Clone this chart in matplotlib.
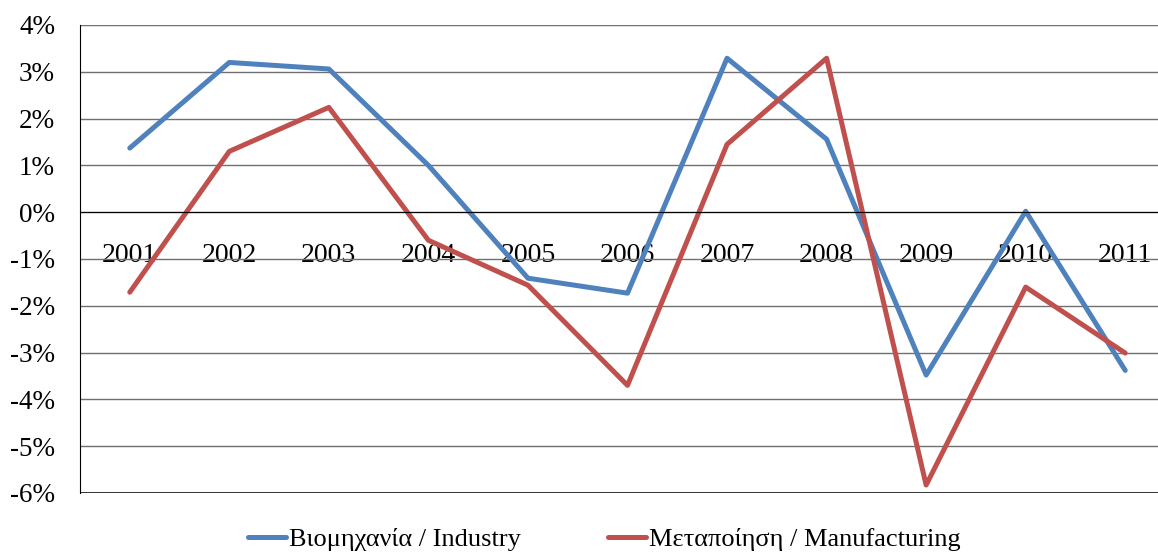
import numpy as np
import matplotlib.pyplot as plt
from matplotlib.ticker import FuncFormatter

years = ['2001', '2002', '2003', '2004', '2005', '2006', '2007', '2008', '2009', '2010', '2011']
industry = [1.37, 3.20, 3.06, 1.00, -1.41, -1.73, 3.29, 1.56, -3.48, 0.02, -3.38]
manufacturing = [-1.71, 1.30, 2.24, -0.60, -1.56, -3.70, 1.45, 3.29, -5.83, -1.60, -3.01]

label_ind = 'Βιομηχανία / Industry'
label_man = 'Μεταποίηση / Manufacturing'

plt.rcParams['font.family'] = ['Liberation Serif', 'DejaVu Serif']

fig = plt.figure(figsize=(11.58, 5.53), dpi=100)
ax = fig.add_axes([80 / 1158, 1 - 493 / 553, 1095 / 1158, 468 / 553])

x = np.arange(len(years))
ax.plot(x, industry, color='#4F81BD', lw=3.6, label=label_ind, solid_capstyle='round')
ax.plot(x, manufacturing, color='#C0504D', lw=3.6, label=label_man, solid_capstyle='round')

ax.set_xlim(-0.5, len(years) - 0.5)
ax.set_ylim(-6, 4)
ax.set_yticks(np.arange(-6, 5, 1))
ax.yaxis.set_major_formatter(FuncFormatter(lambda v, p: '%d%%' % v))
ax.yaxis.grid(True, color='#707070', lw=1)
ax.set_axisbelow(True)

# x axis crosses at zero
ax.spines['bottom'].set_position(('data', 0))
ax.spines['bottom'].set_color('black')
ax.spines['left'].set_color('black')
ax.spines['right'].set_visible(False)
ax.spines['top'].set_visible(False)
ax.axhline(-6, color='black', lw=1.2, zorder=0)
ax.axhline(4, color='black', lw=1.2, zorder=0)
ax.set_xticks(x)
ax.set_xticklabels(years)
ax.tick_params(axis='x', length=0, pad=22, labelsize=20)
ax.tick_params(axis='y', length=0, pad=18, labelsize=19.5)

fig.legend(loc='center', bbox_to_anchor=(0.5216, 0.024), ncol=2, frameon=False,
           fontsize=19, handlelength=1.45, columnspacing=3.3, handletextpad=0.1)

fig.savefig('out.png', dpi=100)
